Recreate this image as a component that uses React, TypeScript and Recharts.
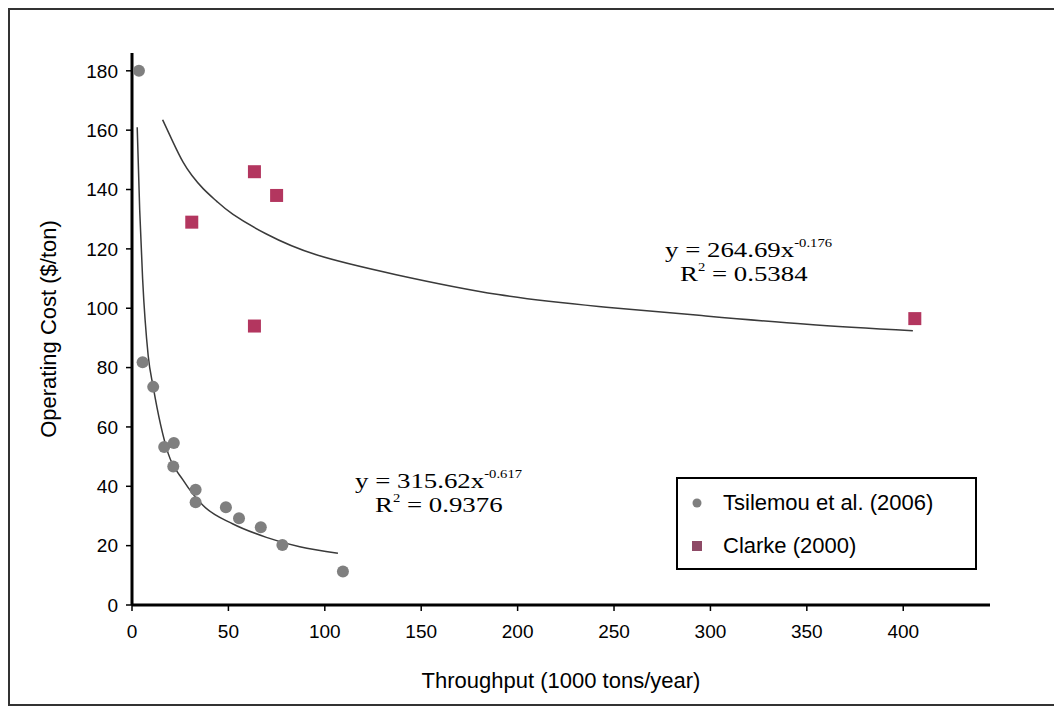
import { ComposedChart, Line, Scatter, XAxis, YAxis } from "recharts";

// Tsilemou et al. (2006) points
const tsilemouX = [3.6, 5.5, 11, 16.7, 21.7, 21.4, 33, 33, 48.7, 55.5, 66.8, 78, 109.4];
const tsilemouY = [180, 81.8, 73.5, 53.2, 54.6, 46.7, 38.8, 34.6, 32.9, 29.2, 26.2, 20.2, 11.3];

// Clarke (2000) points
const clarkeX = [31, 63.5, 63.5, 75, 406];
const clarkeY = [129, 146, 94, 138, 96.5];

// power trend lines
const lowerTrendX = [2.7, 4, 5.5, 8.4, 11, 18.8, 26.6, 36.9, 52.4, 69.7, 87, 106.8];
const lowerTrendY = [161, 133, 110, 84, 73.5, 51, 42, 33.5, 27.3, 22.8, 19.6, 17.4];
const upperTrendX = [15.9, 21.4, 26.5, 31, 36.9, 44, 52.4, 69.7, 95.6, 137, 190, 242, 294, 350, 405];
const upperTrendY = [163.5, 155.8, 149.2, 144.8, 140.3, 136, 131.6, 125, 118, 111.3, 104.6, 100.6, 97.6, 94.6, 92.4];

const xTicks = [0, 50, 100, 150, 200, 250, 300, 350, 400];
const yTicks = [0, 20, 40, 60, 80, 100, 120, 140, 160, 180];

const zip = (xs: number[], ys: number[]) => xs.map((x, i) => ({ x, y: ys[i] }));

const tsilemou = zip(tsilemouX, tsilemouY);
const clarke = zip(clarkeX, clarkeY);
const lowerTrend = zip(lowerTrendX, lowerTrendY);
const upperTrend = zip(upperTrendX, upperTrendY);

const W = 1050;
const H = 698;
const SANS = "'Liberation Sans', Arial, sans-serif";
const SERIF = "'Liberation Serif', 'Times New Roman', serif";
const NARROW = "'Liberation Sans Narrow', 'Arial Narrow', 'Liberation Sans', sans-serif";

const GRAY = "#7f7f7f";
const MAUVE = "#b3365f";

const Dot = (p: any) => <circle cx={p.cx} cy={p.cy} r={6} fill={GRAY} />;
const Sq = (p: any) => <rect x={p.cx - 6.5} y={p.cy - 6.5} width={13} height={13} fill={MAUVE} />;

function LegendBox() {
  return (
    <div
      style={{
        position: "absolute",
        left: 668,
        top: 469,
        width: 301,
        height: 93,
        boxSizing: "border-box",
        border: "2px solid #000",
        background: "#fff",
        fontFamily: SANS,
        fontSize: 22,
        color: "#000",
      }}
    >
      <svg width={40} height={90} style={{ position: "absolute", left: 0, top: 0 }}>
        <circle cx={19} cy={24} r={4.5} fill={GRAY} />
        <rect x={14} y={62} width={10} height={10} fill="#8e4a66" />
      </svg>
      <div style={{ position: "absolute", left: 45, top: 11, whiteSpace: "nowrap" }}>Tsilemou et al. (2006)</div>
      <div style={{ position: "absolute", left: 45, top: 54, whiteSpace: "nowrap" }}>Clarke (2000)</div>
    </div>
  );
}

// equation labels look horizontally stretched in the source
const eq: React.CSSProperties = {
  position: "absolute",
  fontFamily: SERIF,
  fontSize: 22,
  color: "#000",
  whiteSpace: "nowrap",
  lineHeight: "24px",
  transform: "scaleX(1.22)",
  transformOrigin: "left center",
};
const sup: React.CSSProperties = { fontSize: 12, verticalAlign: 10 };

export default function App() {
  return (
    <div style={{ position: "relative", width: W, height: H, background: "#fff" }}>
      <ComposedChart width={W} height={H} margin={{ top: 45, right: 68, bottom: 16, left: 0 }}>
        <XAxis
          type="number"
          dataKey="x"
          domain={[0, 445]}
          ticks={xTicks}
          allowDataOverflow
          height={85}
          tickSize={6}
          tickMargin={14}
          axisLine={{ stroke: "#000", strokeWidth: 3 }}
          tickLine={{ stroke: "#000", strokeWidth: 1.5 }}
          tick={{ fontFamily: NARROW, fontSize: 19, fill: "#000" }}
          label={{
            value: "Throughput (1000 tons/year)",
            position: "insideBottom",
            offset: 2,
            style: { fontFamily: SANS, fontSize: 22, fill: "#000" },
          }}
        />
        <YAxis
          type="number"
          dataKey="y"
          domain={[0, 186]}
          ticks={yTicks}
          allowDataOverflow
          width={124}
          tickSize={6}
          tickMargin={8}
          axisLine={{ stroke: "#000", strokeWidth: 3 }}
          tickLine={{ stroke: "#000", strokeWidth: 1.5 }}
          tick={{ fontFamily: NARROW, fontSize: 19, fill: "#000" }}
          label={{
            value: "Operating Cost ($/ton)",
            angle: -90,
            position: "insideLeft",
            offset: 40,
            style: { fontFamily: SANS, fontSize: 22, fill: "#000", textAnchor: "middle" },
          }}
        />
        <Line
          data={lowerTrend}
          dataKey="y"
          type="monotone"
          stroke="#3a3a3a"
          strokeWidth={1.5}
          dot={false}
          legendType="none"
          isAnimationActive={false}
        />
        <Line
          data={upperTrend}
          dataKey="y"
          type="natural"
          stroke="#3a3a3a"
          strokeWidth={1.5}
          dot={false}
          legendType="none"
          isAnimationActive={false}
        />
        <Scatter name="Tsilemou et al. (2006)" data={tsilemou} shape={Dot} isAnimationActive={false} />
        <Scatter name="Clarke (2000)" data={clarke} shape={Sq} isAnimationActive={false} />
      </ComposedChart>

      <LegendBox />

      <div style={{ ...eq, left: 657, top: 223 }}>
        y = 264.69x<span style={sup}>-0.176</span>
      </div>
      <div style={{ ...eq, left: 672, top: 247 }}>
        R<span style={sup}>2</span> = 0.5384
      </div>
      <div style={{ ...eq, left: 347, top: 454 }}>
        y = 315.62x<span style={sup}>-0.617</span>
      </div>
      <div style={{ ...eq, left: 367, top: 478 }}>
        R<span style={sup}>2</span> = 0.9376
      </div>

      <div
        style={{
          position: "absolute",
          inset: 0,
          border: "2px solid #333",
          boxSizing: "border-box",
          pointerEvents: "none",
        }}
      />
    </div>
  );
}
